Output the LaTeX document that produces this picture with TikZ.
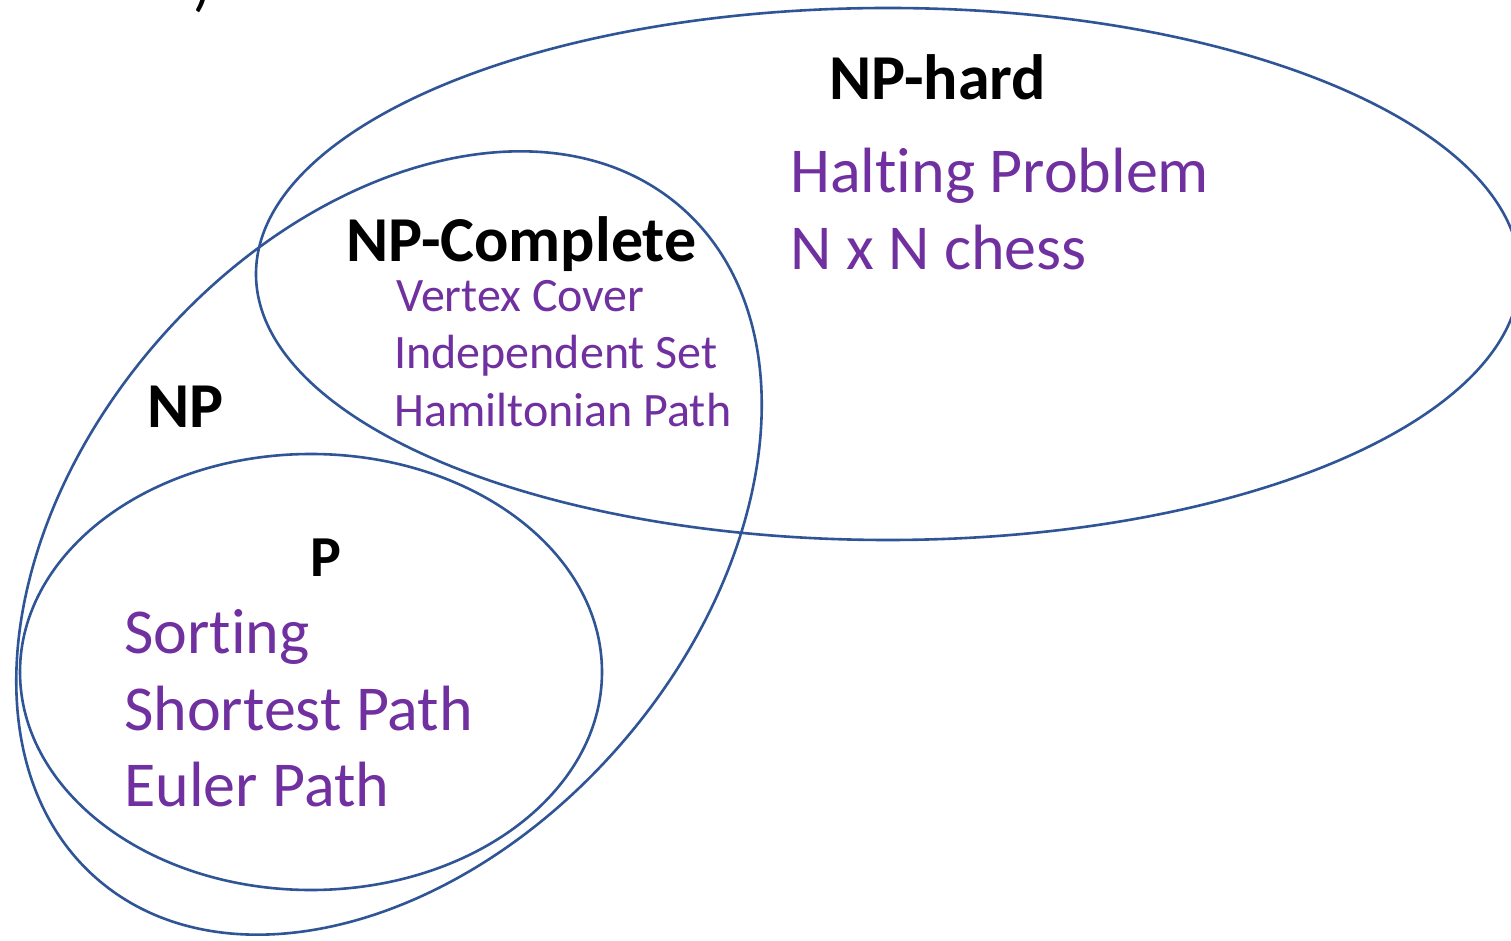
\documentclass[tikz,border=0pt]{standalone}
\usepackage{fontspec}
\setmainfont{Carlito}[Ligatures=NoCommon]
\definecolor{setline}{HTML}{2F5597}
\definecolor{problem}{HTML}{7030A0}
\begin{document}
\begin{tikzpicture}[x=1pt, y=1pt,
  setedge/.style={draw=setline, line width=2.6pt},
  setname/.style={anchor=base west, inner sep=0pt, font=\bfseries\fontsize{64}{76}\selectfont, text=black},
  bigitem/.style={anchor=base west, inner sep=0pt, font=\fontsize{64}{77}\selectfont, text=problem},
  smallitem/.style={anchor=base west, inner sep=0pt, font=\fontsize{48}{58}\selectfont, text=problem}]
  \fill[white] (0,0) rectangle (1511,940);
  \useasboundingbox (0,0) rectangle (1511,940);

  % tail of a bracket from the line above
  \node[anchor=base west, inner sep=0pt, font=\fontsize{60}{72}\selectfont] (brk) at (193,935) {)};

  % the three sets
  \draw[setedge] (888,666) ellipse [x radius=632, y radius=266];
  \draw[setedge, rotate around={49:(389,397)}] (389,397) ellipse [x radius=445, y radius=307];
  \draw[setedge] (311,268) ellipse [x radius=291, y radius=218];

  % NP-hard
  \node[setname] (hard) at (829,840) {NP-hard};
  \node[bigitem] (halt) at (790,747) {Halting Problem};
  \node[bigitem] (chess) at (790,670) {N x N chess};

  % NP-complete
  \node[setname] (npc) at (346,678) {NP-Complete};
  \node[smallitem] (vc) at (396,628) {Vertex Cover};
  \node[smallitem] (is) at (394,571) {Independent Set};
  \node[smallitem] (hp) at (394,513) {Hamiltonian Path};

  % NP
  \node[setname] (np) at (147,512) {NP};

  % P
  \node[setname, font=\bfseries\fontsize{58}{70}\selectfont] (p) at (310,363) {P};
  \node[bigitem] (sort) at (124,287) {Sorting};
  \node[bigitem] (sp) at (124,210) {Shortest Path};
  \node[bigitem] (euler) at (124,134) {Euler Path};
\end{tikzpicture}
\end{document}
